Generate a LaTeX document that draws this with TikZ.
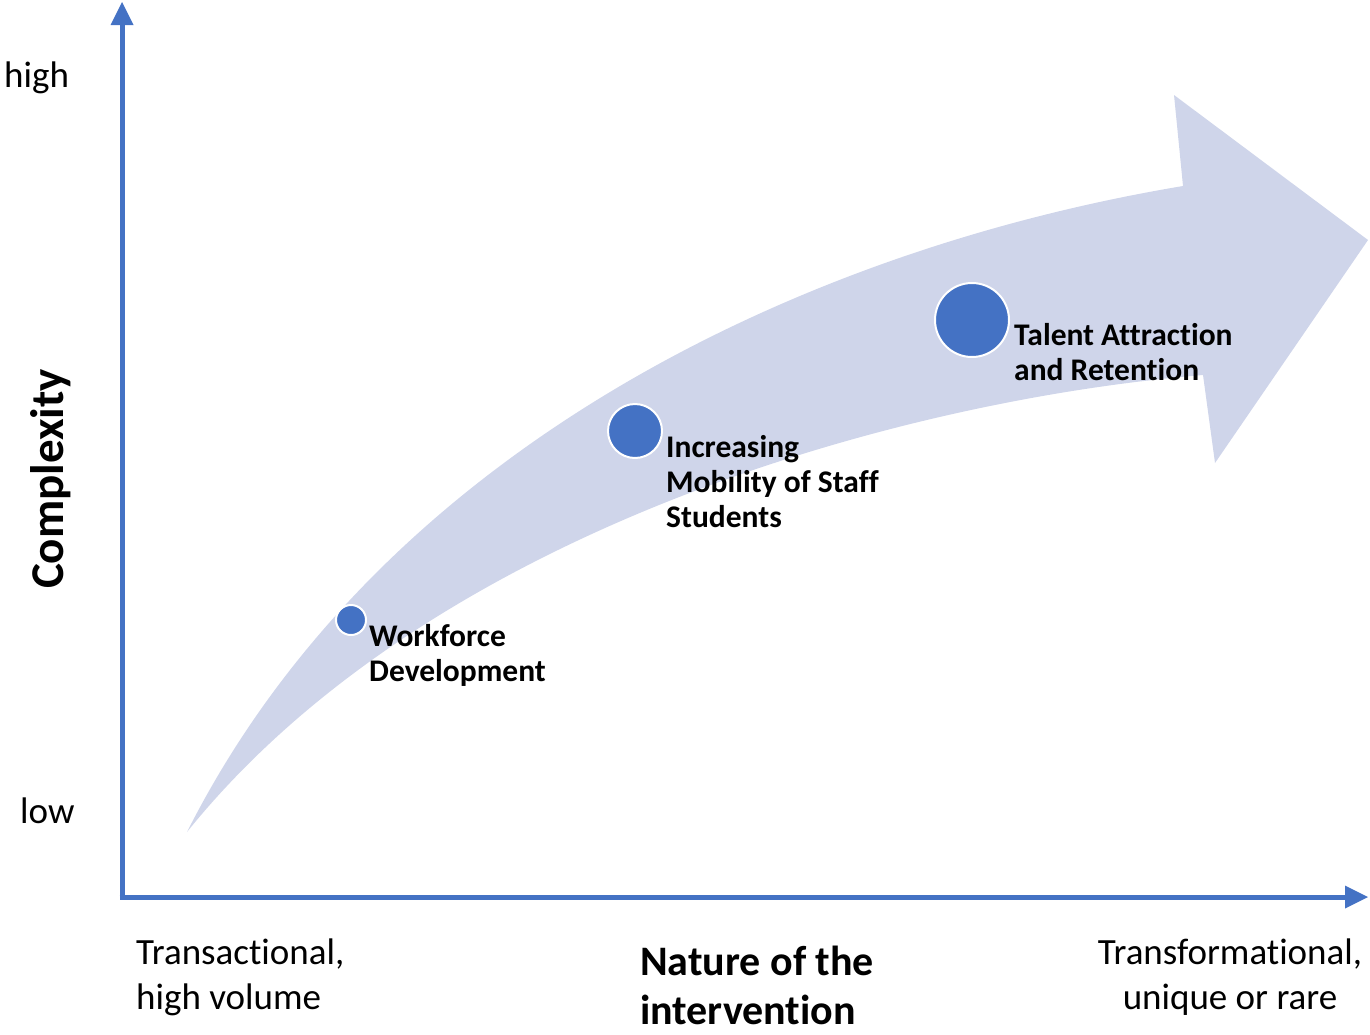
\documentclass[tikz,border=0pt]{standalone}
\usepackage{fontspec}
\setmainfont{Carlito}[Ligatures={NoCommon}]
\definecolor{axisblue}{HTML}{4472C4}
\definecolor{arrowfill}{HTML}{CFD5EA}
\begin{document}
\begin{tikzpicture}[x=1pt,y=-1pt,
  axis/.style={draw=axisblue,line width=5pt},
  axishead/.style={fill=axisblue},
  dot/.style={circle,fill=axisblue,draw=white,line width=2pt,inner sep=0pt},
  itemlabel/.style={font=\fontsize{31.5}{35}\selectfont\bfseries,align=left,inner sep=0pt,anchor=north west},
  axlabel/.style={font=\fontsize{37}{45}\selectfont,inner sep=0pt}
]
\useasboundingbox (0,0) rectangle (1370,1034);
% curved arrow
\fill[arrowfill] (187,832) .. controls (380,450) and (800,250) .. (1183,186)
  -- (1174,95) -- (1368,240) -- (1215,463) -- (1203,375)
  .. controls (900,400) and (430,530) .. (187,832) -- cycle;
% axes
\coordinate (origin) at (122,897);
\coordinate (ytop) at (122,24);
\coordinate (xend) at (1346,897);
\draw[axis] (122,899.5) -- (ytop);
\draw[axis] (119.5,897) -- (xend);
\fill[axishead] (122,2) -- (110.5,25) -- (133.5,25) -- cycle;
\fill[axishead] (1368,897) -- (1345,885.5) -- (1345,908.5) -- cycle;
% dots
\node[dot,minimum size=30pt] (d1) at (351,620) {};
\node[dot,minimum size=54pt] (d2) at (635,431) {};
\node[dot,minimum size=74pt] (d3) at (972,320) {};
% item labels
\node[itemlabel] (l1) at (369,624) {Workforce\\Development};
\node[itemlabel] (l2) at (666,435) {Increasing\\Mobility of Staff\\Students};
\node[itemlabel] (l3) at (1014,323) {Talent Attraction\\and Retention};
% axis labels
\node[axlabel,anchor=west] (high) at (4,78) {high};
\node[axlabel,anchor=west] (low) at (20,811) {low};
\node[font=\fontsize{47}{56}\selectfont\bfseries,rotate=90,inner sep=0pt] (cx) at (51,479) {Complexity};
\node[axlabel,align=left,anchor=north west] (tl) at (136,939) {Transactional,\\high volume};
\node[font=\fontsize{42}{49}\selectfont\bfseries,align=left,inner sep=0pt,anchor=north west] (nat) at (640,946) {Nature of the\\intervention};
\node[axlabel,align=center,anchor=north] (tr) at (1230,939) {Transformational,\\unique or rare};
\end{tikzpicture}
\end{document}
